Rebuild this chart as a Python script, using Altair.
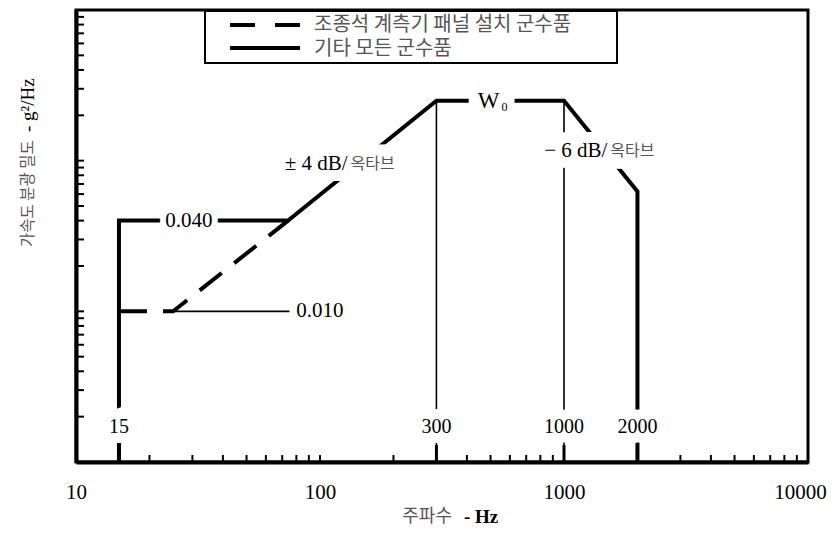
import altair as alt
import pandas as pd

# ---------------- data ----------------
solid_freq = [15, 15, 74, 300, 1000, 2000, 2000]
solid_psd = [0.001, 0.04, 0.04, 0.25, 0.25, 0.0625, 0.001]

dashed_freq = [15, 25, 74]
dashed_psd = [0.01, 0.01, 0.04]

thin_f1 = [25, 300, 1000]
thin_f2 = [75, 300, 1000]
thin_v1 = [0.01, 0.25, 0.25]
thin_v2 = [0.01, 0.001, 0.001]

x_label_values = [10, 100, 1000, 10000]
x_minor_ticks = [20, 30, 40, 50, 60, 70, 80, 90, 100,
                 200, 400, 500, 600, 700, 800, 900,
                 3000, 4000, 5000, 6000, 7000, 8000, 9000]
x_major_ticks = [15, 300, 1000, 2000]
y_ticks = [m * d for d in (0.001, 0.01, 0.1) for m in range(1, 10)] + [1.0]

freq_labels = ["15", "300", "1000", "2000"]
freq_label_pos = [15, 300, 1000, 2000]
freq_label_psd = [0.0017, 0.0017, 0.0017, 0.0017]

level_texts = ["0.040", "0.010"]
level_f = [29, 80]
level_v = [0.04, 0.01]

slope_num = ["± 4 dB/", "− 6 dB/"]
slope_kor = ["옥타브", "옥타브"]
slope_f = [131, 1520]
slope_v = [0.0955, 0.1166]

w0_f = [500]
w0_v = [0.25]

legend_labels = ["조종석 계측기 패널 설치 군수품", "기타 모든 군수품"]

# ---------------- scales ----------------
X = alt.X("f:Q", scale=alt.Scale(type="log", domain=[10, 10000], nice=False),
          axis=alt.Axis(values=x_label_values, format="d", ticks=False, grid=False,
                        labelFont="Liberation Serif", labelFontSize=21, labelColor="black",
                        labelPadding=19, labelFlush=False, labelOverlap=False,
                        labelOffset={"condition": {"test": "datum.value == 10000", "value": -8},
                                     "value": 0},
                        domainColor="black", domainWidth=4, title=None))
Y = alt.Y("v:Q", scale=alt.Scale(type="log", domain=[0.001, 1], nice=False),
          axis=alt.Axis(labels=False, ticks=False, grid=False, domainColor="black",
                        domainWidth=4, title=None))
X2 = alt.X2("f2:Q")
Y2 = alt.Y2("v2:Q")

one = pd.DataFrame({"a": [0]})

solid_df = pd.DataFrame({"f": solid_freq, "v": solid_psd, "o": list(range(len(solid_freq)))})
dashed_df = pd.DataFrame({"f": dashed_freq, "v": dashed_psd, "o": list(range(len(dashed_freq)))})
thin_df = pd.DataFrame({"f": thin_f1, "f2": thin_f2, "v": thin_v1, "v2": thin_v2})

solid = alt.Chart(solid_df).mark_line(color="black", strokeWidth=4, strokeCap="butt",
                                      strokeJoin="miter").encode(x=X, y=Y, order="o:Q")
dashed = alt.Chart(dashed_df).mark_line(color="black", strokeWidth=4, strokeCap="butt",
                                        strokeDash=[28, 16]).encode(x=X, y=Y, order="o:Q")
thin = alt.Chart(thin_df).mark_rule(color="black", strokeWidth=1.6).encode(x=X, y=Y, x2=X2, y2=Y2)

# ---------------- annotations ----------------
serif = "Liberation Serif"
kfont = "Noto Sans CJK KR"

fl_df = pd.DataFrame({"f": freq_label_pos, "v": freq_label_psd, "t": freq_labels})
lv040 = pd.DataFrame({"f": level_f[:1], "v": level_v[:1], "t": level_texts[:1]})
lv010 = pd.DataFrame({"f": level_f[1:], "v": level_v[1:], "t": level_texts[1:]})
sl_df = pd.DataFrame({"f": slope_f, "v": slope_v, "n": slope_num, "k": slope_kor})
w_df = pd.DataFrame({"f": w0_f, "v": w0_v})

fl_halo = alt.Chart(fl_df).mark_text(font=serif, fontSize=20, fill="white", stroke="white",
                                     strokeWidth=20, baseline="middle").encode(x=X, y=Y, text="t:N")
fl_text = alt.Chart(fl_df).mark_text(font=serif, fontSize=20, color="black",
                                     baseline="middle").encode(x=X, y=Y, text="t:N")

lv_halo = alt.Chart(lv040).mark_text(font=serif, fontSize=21, fill="white", stroke="white",
                                     strokeWidth=12, baseline="middle").encode(x=X, y=Y, text="t:N")
lv_text1 = alt.Chart(lv040).mark_text(font=serif, fontSize=21, color="black",
                                      baseline="middle").encode(x=X, y=Y, text="t:N")
lv_text2 = alt.Chart(lv010).mark_text(font=serif, fontSize=21, color="black", align="left",
                                      baseline="middle").encode(x=X, y=Y, text="t:N")

sl_halo_n = alt.Chart(sl_df).mark_text(font=serif, fontSize=21, fill="white", stroke="white",
                                       strokeWidth=22, align="right", baseline="middle",
                                       dx=-1).encode(x=X, y=Y, text="n:N")
sl_halo_k = alt.Chart(sl_df).mark_text(font=kfont, fontSize=16, fill="white", stroke="white",
                                       strokeWidth=22, align="left", baseline="middle",
                                       dx=2).encode(x=X, y=Y, text="k:N")
sl_text_n = alt.Chart(sl_df).mark_text(font=serif, fontSize=21, color="black", align="right",
                                       baseline="middle", dx=-1).encode(x=X, y=Y, text="n:N")
sl_text_k = alt.Chart(sl_df).mark_text(font=kfont, fontSize=16, color="#555", align="left",
                                       baseline="middle", dx=2).encode(x=X, y=Y, text="k:N")

w_halo = alt.Chart(w_df).mark_text(font=serif, fontSize=23, fill="white", stroke="white",
                                   strokeWidth=24, baseline="middle", dx=1).encode(
    x=X, y=Y, text=alt.value("W"))
w_text = alt.Chart(w_df).mark_text(font=serif, fontSize=23, color="black", baseline="middle",
                                   dx=-2).encode(x=X, y=Y, text=alt.value("W"))
w_sub = alt.Chart(w_df).mark_text(font=serif, fontSize=12, color="black", baseline="middle",
                                  dx=14, dy=6).encode(x=X, y=Y, text=alt.value("0"))

# ---------------- inward ticks ----------------
xt_minor = alt.Chart(pd.DataFrame({"f": x_minor_ticks})).mark_rule(
    color="black", strokeWidth=2).encode(x=X, y=alt.value(452), y2=alt.value(445))
xt_major = alt.Chart(pd.DataFrame({"f": x_major_ticks})).mark_rule(
    color="black", strokeWidth=3).encode(x=X, y=alt.value(452), y2=alt.value(435))
yt = alt.Chart(pd.DataFrame({"v": y_ticks})).mark_rule(
    color="black", strokeWidth=2).encode(y=Y, x=alt.value(0), x2=alt.value(8))

# ---------------- legend ----------------
leg_box = alt.Chart(one).mark_rect(fill="white", stroke="black", strokeWidth=2).encode(
    x=alt.value(129), x2=alt.value(541), y=alt.value(1), y2=alt.value(53))
leg_dash = alt.Chart(one).mark_rule(color="black", strokeWidth=4, strokeDash=[25, 20],
                                    strokeCap="butt").encode(
    x=alt.value(154), x2=alt.value(224), y=alt.value(15))
leg_solid = alt.Chart(one).mark_rule(color="black", strokeWidth=4, strokeCap="butt").encode(
    x=alt.value(154), x2=alt.value(224), y=alt.value(38))
leg_t1 = alt.Chart(one).mark_text(font=kfont, fontSize=20, color="#555", align="left",
                                  baseline="middle").encode(
    x=alt.value(238), y=alt.value(15), text=alt.value(legend_labels[0]))
leg_t2 = alt.Chart(one).mark_text(font=kfont, fontSize=20, color="#555", align="left",
                                  baseline="middle").encode(
    x=alt.value(238), y=alt.value(39), text=alt.value(legend_labels[1]))

# ---------------- axis titles ----------------
yt_k = alt.Chart(one).mark_text(font=kfont, fontSize=15.5, color="#555", angle=270,
                                align="left", baseline="middle").encode(
    x=alt.value(-48), y=alt.value(237), text=alt.value("가속도 분광 밀도"))
yt_s = alt.Chart(one).mark_text(font=serif, fontSize=19, color="black", angle=270,
                                align="left", baseline="middle").encode(
    x=alt.value(-48), y=alt.value(122), text=alt.value("- g²/Hz"))
xt_k = alt.Chart(one).mark_text(font=kfont, fontSize=18, color="#555", align="right",
                                baseline="middle").encode(
    x=alt.value(376), y=alt.value(507), text=alt.value("주파수"))
xt_s = alt.Chart(one).mark_text(font=serif, fontSize=19, color="black", fontWeight="bold",
                                align="left", baseline="middle").encode(
    x=alt.value(388), y=alt.value(507), text=alt.value("- Hz"))

chart = alt.layer(
    solid, dashed, thin,
    fl_halo, lv_halo, sl_halo_n, sl_halo_k, w_halo,
    fl_text, lv_text1, lv_text2, sl_text_n, sl_text_k, w_text, w_sub,
    xt_minor, xt_major, yt,
    leg_box, leg_dash, leg_solid, leg_t1, leg_t2,
    yt_k, yt_s, xt_k, xt_s,
).properties(
    width=732, height=452,
    padding={"left": 68, "top": 2, "right": 19, "bottom": 66},
    autosize=alt.AutoSizeParams(type="none"),
).configure_view(stroke="black", strokeWidth=3)

chart.save("out.html", embed_options={"renderer": "svg", "actions": False})
